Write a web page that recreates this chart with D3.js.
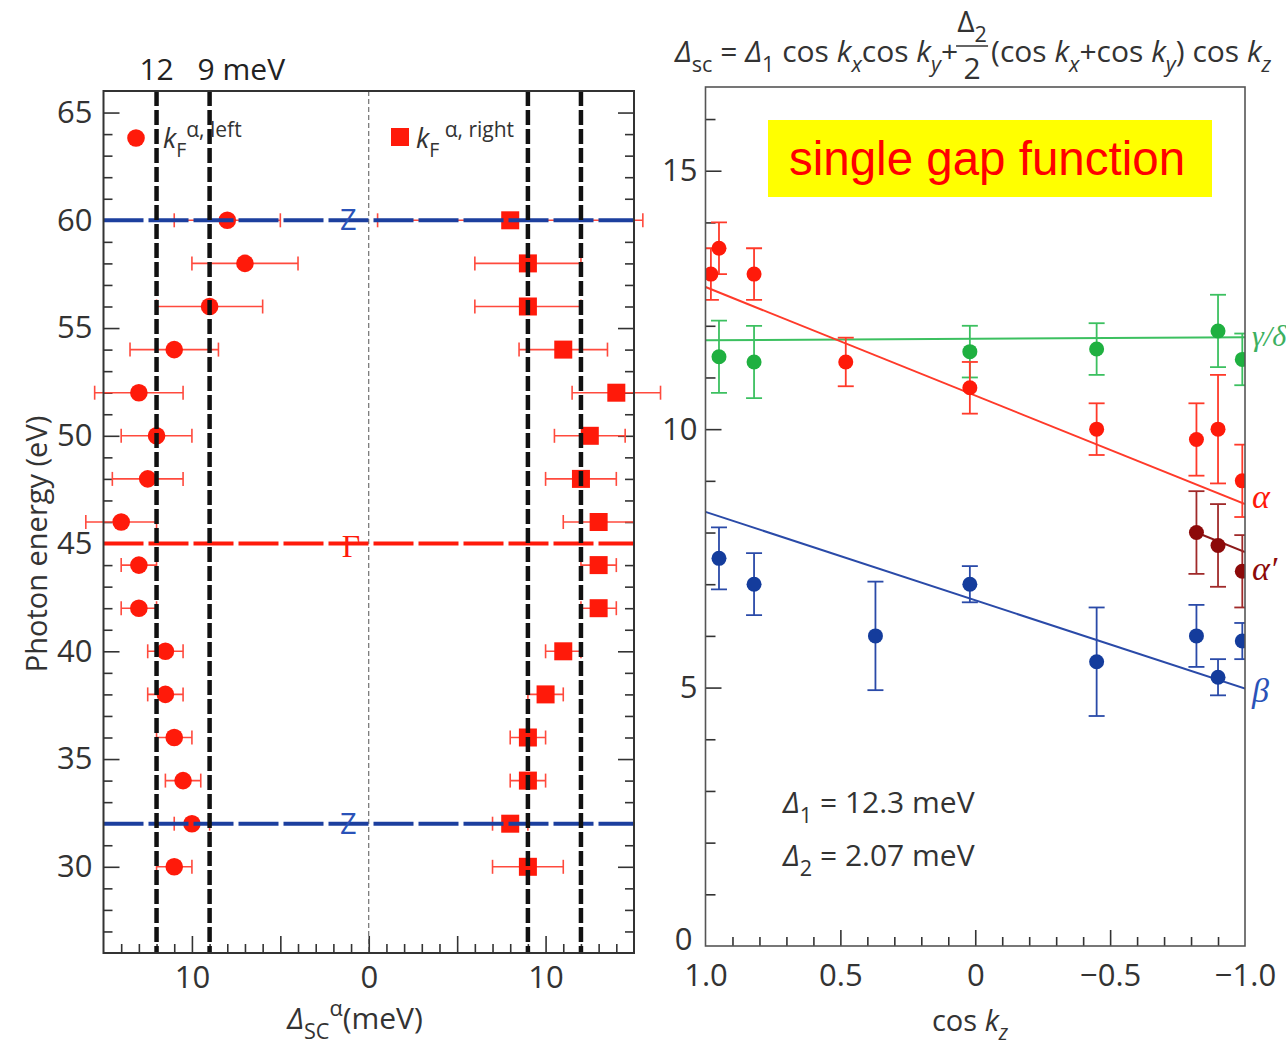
<!DOCTYPE html>
<html><head><meta charset="utf-8">
<script src="https://cdn.jsdelivr.net/npm/d3@7"></script>
<style>body{margin:0;background:#fff}svg{display:block}</style>
</head><body><svg id="c" width="1286" height="1048"></svg>
<script>
// ---------- Left panel data (photon energy scan) ----------
const photonEnergy = [60,58,56,54,52,50,48,46,44,42,40,38,36,34,32,30];
const gapLeft  = [8,7,9,11,13,12,12.5,14,13,13,11.5,11.5,11,10.5,10,11];
const errLeft  = [3,3,3,2.5,2.5,2,2,2,1,1,1,1,1,1,1,1];
const gapRight = [8,9,9,11,14,12.5,12,13,13,13,11,10,9,9,8,9];
const errRight = [7.5,3,3,2.5,2.5,2,2,2,1,1,1,1,1,1,1,2];
const refGaps = [12, 9];            // dashed reference lines (meV)
const zEnergies = [60, 32];          // Z point lines
const gammaEnergy = [45];            // Gamma line
const leftYTicks = [30,35,40,45,50,55,60,65];
const leftXTicks = [-10,0,10];

// ---------- Right panel data (gap vs cos kz) ----------
const alphaCos = [0.98,0.95,0.82,0.48,0.02,-0.45,-0.82,-0.9,-0.99];
const alphaGap = [13.0,13.5,13.0,11.3,10.8,10.0,9.8,10.0,9.0];
const alphaErr = [0.5,0.5,0.5,0.47,0.5,0.5,0.7,1.05,0.7];
const gdCos = [0.95,0.82,0.02,-0.45,-0.9,-0.99];
const gdGap = [11.4,11.3,11.5,11.55,11.9,11.35];
const gdErr = [0.7,0.7,0.5,0.5,0.7,0.5];
const apCos = [-0.82,-0.9,-0.99];
const apGap = [8.0,7.75,7.25];
const apErr = [0.8,0.8,0.7];
const betaCos = [0.95,0.82,0.37,0.02,-0.45,-0.82,-0.9,-0.99];
const betaGap = [7.5,7.0,6.0,7.0,5.5,6.0,5.2,5.9];
const betaErr = [0.6,0.6,1.05,0.35,1.05,0.6,0.35,0.35];
const fitCos = [1,-1];
const alphaFit = [12.75,8.55];
const gdFit = [11.72,11.78];
const betaFit = [8.4,4.98];
const apFitCos = [-0.82,-1];
const apFit = [8.0,7.62];
const rightYTicks = [0,5,10,15];
const rightXTicks = [1,0.5,0,-0.5,-1];

const svg = d3.select("#c");
svg.append("rect").attr("width",1286).attr("height",1048).attr("fill","#fff");
const FONT = "'Open Sans', 'DejaVu Sans', sans-serif";
const SERIF = "'Liberation Serif', 'DejaVu Serif', serif";
const RED = "#ff1a0a", REDL = "#ff4a3d", BLUE = "#143c9c", GREEN = "#1fb040", DRED = "#8c0a0a";

function rich(t, segs, fs){
  let shift = 0;
  segs.forEach(s=>{
    const target = s.sub ? fs*0.32 : (s.sup ? -fs*0.42 : 0);
    const ts = t.append("tspan").text(s.t).attr("dy", target - shift);
    shift = target;
    if (s.sub || s.sup) ts.attr("font-size", s.fs || fs*0.72);
    if (s.i) ts.attr("font-style","italic");
  });
  return t;
}
function tickLen(g, isMajor, majorLen, minorLen){
  g.select(".domain").remove();
  g.selectAll(".tick line").each(function(d){
    const el = d3.select(this);
    const L = isMajor(d) ? majorLen : minorLen;
    const x2 = +el.attr("x2") || 0, y2 = +el.attr("y2") || 0;
    if (x2 !== 0) el.attr("x2", Math.sign(x2)*L); else el.attr("y2", Math.sign(y2)*L);
  }).attr("stroke","#333").attr("stroke-width",1.6);
}

// ================= LEFT PANEL =================
const xL = d3.scaleLinear().domain([-15,15]).range([103.5,634]);
const yL = d3.scaleLinear().domain([26,66]).range([953,91]);
const L = svg.append("g");

const eTicks = d3.range(27,66);
const isMaj5 = d => Math.round(d)%5===0;
L.append("g").attr("transform",`translate(${xL(-15)},0)`).call(d3.axisRight(yL).tickValues(eTicks).tickFormat("").tickSizeOuter(0)).call(g=>tickLen(g,isMaj5,16,9));
L.append("g").attr("transform",`translate(${xL(15)},0)`).call(d3.axisLeft(yL).tickValues(eTicks).tickFormat("").tickSizeOuter(0)).call(g=>tickLen(g,isMaj5,16,9));
L.append("g").attr("transform",`translate(0,${yL(26)})`).call(d3.axisTop(xL).tickValues(d3.range(-14,15)).tickFormat("").tickSizeOuter(0)).call(g=>tickLen(g,isMaj5,17,9));
L.append("g").attr("transform",`translate(${xL(-15)},0)`).call(d3.axisLeft(yL).tickValues(leftYTicks).tickSize(0).tickPadding(11))
  .call(g=>{g.select(".domain").remove(); g.selectAll("text").attr("font-family",FONT).attr("font-size",31).attr("fill","#333");});
L.append("g").attr("transform",`translate(0,${yL(26)})`).call(d3.axisBottom(xL).tickValues(leftXTicks).tickSize(0).tickPadding(13).tickFormat(d=>Math.abs(d)))
  .call(g=>{g.select(".domain").remove(); g.selectAll("text").attr("font-family",FONT).attr("font-size",31).attr("fill","#333");});

L.append("line").attr("x1",xL(0)).attr("x2",xL(0)).attr("y1",yL(66)).attr("y2",yL(26))
  .attr("stroke","#555").attr("stroke-width",1).attr("stroke-dasharray","5,3");

function hErr(data, sign){
  const g = L.append("g").attr("stroke",REDL).attr("stroke-width",1.6);
  data.forEach(d=>{
    const x1 = xL(sign*(d.v-d.e)), x2 = xL(sign*(d.v+d.e)), y = yL(d.y);
    g.append("line").attr("x1",x1).attr("x2",x2).attr("y1",y).attr("y2",y);
    [x1,x2].forEach(x=>g.append("line").attr("x1",x).attr("x2",x).attr("y1",y-7).attr("y2",y+7));
  });
}
const leftData = photonEnergy.map((y,i)=>({y, v:gapLeft[i], e:errLeft[i]}));
const rightData = photonEnergy.map((y,i)=>({y, v:gapRight[i], e:errRight[i]}));
hErr(leftData,-1); hErr(rightData,1);
L.append("g").selectAll("circle").data(leftData).join("circle")
  .attr("cx",d=>xL(-d.v)).attr("cy",d=>yL(d.y)).attr("r",8.8).attr("fill",RED);
L.append("g").selectAll("rect").data(rightData).join("rect")
  .attr("x",d=>xL(d.v)-9).attr("y",d=>yL(d.y)-9).attr("width",18).attr("height",18).attr("fill",RED);

zEnergies.forEach(e=>{
  L.append("line").attr("x1",xL(-15)).attr("x2",xL(15)).attr("y1",yL(e)).attr("y2",yL(e))
    .attr("stroke","#1c3f9e").attr("stroke-width",4).attr("stroke-dasharray","40,5");
  L.append("text").attr("x",xL(-1.15)).attr("y",yL(e)+10).attr("text-anchor","middle")
    .attr("font-family",FONT).attr("font-size",29).attr("fill","#2a52b8").text("Z");
});
gammaEnergy.forEach(e=>{
  L.append("line").attr("x1",xL(-15)).attr("x2",xL(15)).attr("y1",yL(e)).attr("y2",yL(e))
    .attr("stroke",RED).attr("stroke-width",4).attr("stroke-dasharray","40,5");
  L.append("text").attr("x",xL(-1.0)).attr("y",yL(e)+13).attr("text-anchor","middle")
    .attr("font-family",SERIF).attr("font-size",32).attr("fill",RED).text("Γ");
});
refGaps.forEach(g=>{
  [-g,g].forEach(v=>{
    L.append("line").attr("x1",xL(v)).attr("x2",xL(v)).attr("y1",yL(66)).attr("y2",yL(26))
      .attr("stroke","#111").attr("stroke-width",4.5).attr("stroke-dasharray","15,4");
  });
});
L.append("rect").attr("x",xL(-15)).attr("y",yL(66)).attr("width",xL(15)-xL(-15)).attr("height",yL(26)-yL(66))
  .attr("fill","none").attr("stroke","#333").attr("stroke-width",2);

// legend
L.append("circle").attr("cx",136).attr("cy",138).attr("r",8.8).attr("fill",RED);
rich(L.append("text").attr("x",163).attr("y",148).attr("font-family",FONT).attr("font-size",27).attr("fill","#333"),
  [{t:"k",i:true},{t:"F",sub:true},{t:"α, left",sup:true,fs:21}],27);
L.append("rect").attr("x",391).attr("y",128).attr("width",18).attr("height",18).attr("fill",RED);
rich(L.append("text").attr("x",416).attr("y",148).attr("font-family",FONT).attr("font-size",27).attr("fill","#333"),
  [{t:"k",i:true},{t:"F",sub:true},{t:" α, right",sup:true,fs:21}],27);

// header
L.append("text").attr("x",xL(-12)).attr("y",80).attr("text-anchor","middle").attr("font-family",FONT).attr("font-size",30).attr("fill","#222").text("12");
L.append("text").attr("x",xL(-9)-12).attr("y",80).attr("font-family",FONT).attr("font-size",30).attr("fill","#222").text("9 meV");

// axis titles
L.append("text").attr("transform","translate(47,544) rotate(-90)").attr("text-anchor","middle")
  .attr("font-family",FONT).attr("font-size",29).attr("fill","#333").text("Photon energy (eV)");
rich(L.append("text").attr("x",355).attr("y",1029).attr("text-anchor","middle").attr("font-family",FONT).attr("font-size",30).attr("fill","#333"),
  [{t:"Δ",i:true},{t:"SC",sub:true},{t:"α",sup:true},{t:"(meV)"}],30);

// ================= RIGHT PANEL =================
const xR = d3.scaleLinear().domain([1,-1]).range([705.5,1245]);
const yR = d3.scaleLinear().domain([0,16.62]).range([946,87]);
const R = svg.append("g");
svg.append("defs").append("clipPath").attr("id","clipR").append("rect")
  .attr("x",xR(1)).attr("y",yR(16.62)).attr("width",xR(-1)-xR(1)).attr("height",yR(0)-yR(16.62));

R.append("g").attr("transform",`translate(${xR(1)},0)`).call(d3.axisRight(yR).tickValues(d3.range(1,17)).tickFormat("").tickSizeOuter(0))
  .call(g=>tickLen(g,isMaj5,16,10));
const cTicks = d3.range(-9,10).map(i=>i/10);
R.append("g").attr("transform",`translate(0,${yR(0)})`).call(d3.axisTop(xR).tickValues(cTicks).tickFormat("").tickSizeOuter(0))
  .call(g=>tickLen(g,d=>Math.round(d*10)%5===0,16,9));
R.append("g").attr("transform",`translate(${xR(1)},0)`).call(d3.axisLeft(yR).tickValues(rightYTicks).tickSize(0).tickPadding(8))
  .call(g=>{g.select(".domain").remove(); g.selectAll("text").attr("font-family",FONT).attr("font-size",31).attr("fill","#333")
     .attr("dy",d=>d===0?"0.12em":"0.32em").attr("dx",d=>d===0?-5:0);});
R.append("g").attr("transform",`translate(0,${yR(0)})`).call(d3.axisBottom(xR).tickValues(rightXTicks).tickSize(0).tickPadding(18)
  .tickFormat(d=>d===0?"0":(d<0?"−":"")+Math.abs(d).toFixed(1)))
  .call(g=>{g.select(".domain").remove(); g.selectAll("text").attr("font-family",FONT).attr("font-size",31).attr("fill","#333");});

const P = R.append("g").attr("clip-path","url(#clipR)");
const line = d3.line().x(d=>xR(d[0])).y(d=>yR(d[1]));
function fit(cs, gs, col){
  P.append("path").attr("d",line(cs.map((c,i)=>[c,gs[i]]))).attr("fill","none").attr("stroke",col).attr("stroke-width",2);
}
fit(fitCos, gdFit, "#3cc060");
fit(fitCos, alphaFit, "#ff3a2a");
fit(apFitCos, apFit, "#8c1a1a");
fit(fitCos, betaFit, "#2a4aa8");

function series(cs, gs, es, col, ecol){
  const g = P.append("g");
  const eg = g.append("g").attr("stroke",ecol).attr("stroke-width",1.8);
  cs.forEach((c,i)=>{
    const x = xR(c), y1 = yR(gs[i]-es[i]), y2 = yR(gs[i]+es[i]);
    eg.append("line").attr("x1",x).attr("x2",x).attr("y1",y1).attr("y2",y2);
    [y1,y2].forEach(y=>eg.append("line").attr("x1",x-8).attr("x2",x+8).attr("y1",y).attr("y2",y));
  });
  g.append("g").selectAll("circle").data(cs).join("circle")
    .attr("cx",(c)=>xR(c)).attr("cy",(c,i)=>yR(gs[i])).attr("r",7.5).attr("fill",col);
}
series(gdCos, gdGap, gdErr, GREEN, "#3cc060");
series(alphaCos, alphaGap, alphaErr, RED, "#ff3a2a");
series(apCos, apGap, apErr, DRED, "#a02a2a");
series(betaCos, betaGap, betaErr, BLUE, "#2a4aa8");

R.append("rect").attr("x",xR(1)).attr("y",yR(16.62)).attr("width",xR(-1)-xR(1)).attr("height",yR(0)-yR(16.62))
  .attr("fill","none").attr("stroke","#555").attr("stroke-width",1.6);

// band labels
const bl = (txt,y,col,fs)=>R.append("text").attr("x",1252).attr("y",y).attr("font-family",SERIF).attr("font-style","italic")
  .attr("font-size",fs).attr("fill",col).text(txt);
bl("γ/δ",346,"#3cb060",30); bl("α",508,RED,34); bl("α′",580,DRED,34); bl("β",702,"#2a52b8",34);

// yellow box
R.append("rect").attr("x",768).attr("y",120).attr("width",444).attr("height",77).attr("fill","#ffff00");
R.append("text").attr("x",987).attr("y",175).attr("text-anchor","middle").attr("font-family","'Liberation Sans', Arial, sans-serif")
  .attr("font-size",47.5).attr("fill","#ff0000").text("single gap function");

// parameter annotations
rich(R.append("text").attr("x",783).attr("y",813).attr("font-family",FONT).attr("font-size",30).attr("fill","#333"),
  [{t:"Δ",i:true},{t:"1",sub:true},{t:" = 12.3 meV"}],30);
rich(R.append("text").attr("x",783).attr("y",866).attr("font-family",FONT).attr("font-size",30).attr("fill","#333"),
  [{t:"Δ",i:true},{t:"2",sub:true},{t:" = 2.07 meV"}],30);

// x title
rich(R.append("text").attr("x",970).attr("y",1031).attr("text-anchor","middle").attr("font-family",FONT).attr("font-size",29).attr("fill","#333"),
  [{t:"cos "},{t:"k",i:true},{t:"z",sub:true,i:true}],29);

// formula title
const FS = 30;
const t1 = rich(R.append("text").attr("x",675).attr("y",62).attr("font-family",FONT).attr("font-size",FS).attr("fill","#333"),
  [{t:"Δ",i:true},{t:"sc",sub:true},{t:" = "},{t:"Δ",i:true},{t:"1",sub:true},{t:" cos "},{t:"k",i:true},{t:"x",sub:true,i:true},
   {t:"cos "},{t:"k",i:true},{t:"y",sub:true,i:true},{t:"+ "}],FS);
const w1 = t1.node().getComputedTextLength();
const fx = 675 + w1 + 14;
rich(R.append("text").attr("x",fx).attr("y",32).attr("text-anchor","middle").attr("font-family",FONT).attr("font-size",FS).attr("fill","#333"),
  [{t:"Δ"},{t:"2",sub:true}],FS);
R.append("line").attr("x1",fx-16).attr("x2",fx+16).attr("y1",46).attr("y2",46).attr("stroke","#333").attr("stroke-width",1.6);
R.append("text").attr("x",fx).attr("y",79).attr("text-anchor","middle").attr("font-family",FONT).attr("font-size",FS).attr("fill","#333").text("2");
rich(R.append("text").attr("x",fx+19).attr("y",62).attr("font-family",FONT).attr("font-size",FS).attr("fill","#333"),
  [{t:"(cos "},{t:"k",i:true},{t:"x",sub:true,i:true},{t:"+cos "},{t:"k",i:true},{t:"y",sub:true,i:true},{t:") cos "},{t:"k",i:true},{t:"z",sub:true,i:true}],FS);
</script></body></html>
